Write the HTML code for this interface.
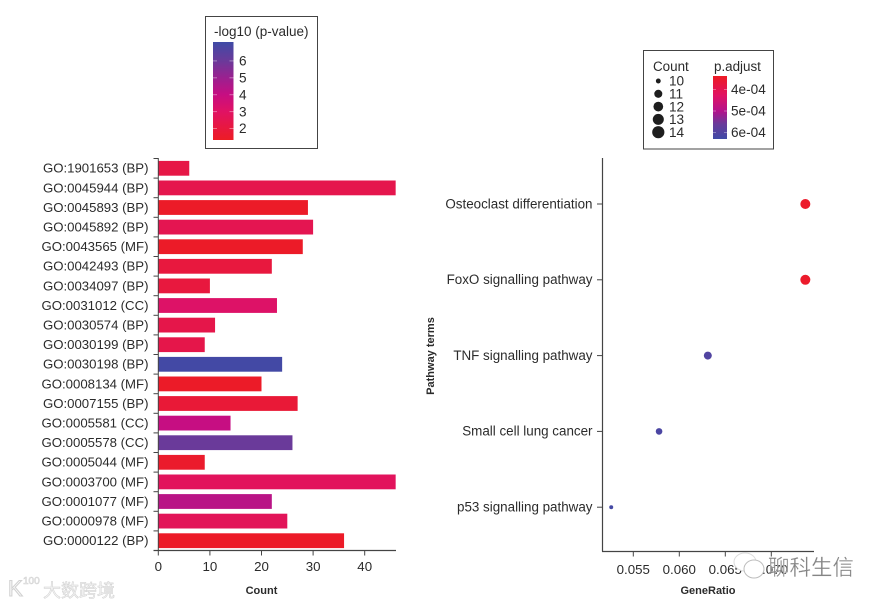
<!DOCTYPE html>
<html>
<head>
<meta charset="utf-8">
<title>GO bar chart and pathway dot plot</title>
<style>
html,body{margin:0;padding:0;background:#fff;}
svg{display:block;}
text{font-family:"Liberation Sans","Noto Sans CJK SC",sans-serif;fill:#2b2b2b;}
</style>
</head>
<body>
<svg id="chart" width="884" height="606" viewBox="0 0 884 606" xmlns="http://www.w3.org/2000/svg">
  <defs>
    <linearGradient id="grad-log" x1="0" y1="1" x2="0" y2="0"></linearGradient>
    <linearGradient id="grad-padj" x1="0" y1="0" x2="0" y2="1"></linearGradient>
  </defs>
  <g id="bar-panel"></g>
  <g id="dot-panel"></g>
  <g id="legend-a"></g>
  <g id="legend-b"></g>
  <g>
    <text x="8" y="596" font-size="22" style="fill:#fff;stroke:#d2d2d2;stroke-width:1.1">K</text>
    <text x="23" y="584" font-size="10" style="fill:#fff;stroke:#d2d2d2;stroke-width:.6">100</text>
    <text x="43" y="597" font-size="18" style="fill:#f4f4f4;stroke:#cfcfcf;stroke-width:.5">大数跨境</text>
  </g>
  <g>
    <ellipse cx="745" cy="562" rx="11" ry="9" fill="#fff" stroke="#dcdcdc" stroke-width="1"></ellipse>
    <ellipse cx="754" cy="569" rx="10" ry="9" fill="#fff" stroke="#bdbdbd" stroke-width="1"></ellipse>
    <text x="768" y="575" font-size="21.5" style="fill:#858585;stroke:#fff;stroke-width:.25">聊科生信</text>
  </g>
</svg>
<script>
// ---- bar chart data ----
const goTerms = ["GO:1901653 (BP)","GO:0045944 (BP)","GO:0045893 (BP)","GO:0045892 (BP)","GO:0043565 (MF)","GO:0042493 (BP)","GO:0034097 (BP)","GO:0031012 (CC)","GO:0030574 (BP)","GO:0030199 (BP)","GO:0030198 (BP)","GO:0008134 (MF)","GO:0007155 (BP)","GO:0005581 (CC)","GO:0005578 (CC)","GO:0005044 (MF)","GO:0003700 (MF)","GO:0001077 (MF)","GO:0000978 (MF)","GO:0000122 (BP)"];
const goCounts = [6,46,29,30,28,22,10,23,11,9,24,20,27,14,26,9,46,22,25,36];
const goLogP = [2.2,2.4,1.4,2.5,1.4,2.0,2.0,3.1,2.3,2.3,7.0,1.4,1.8,4.0,6.0,1.5,2.8,4.3,2.7,1.4];
const countTicks = [0,10,20,30,40];
const logPTicks = [2,3,4,5,6];

// ---- dot plot data ----
const pathways = ["Osteoclast differentiation","FoxO signalling pathway","TNF signalling pathway","Small cell lung cancer","p53 signalling pathway"];
const geneRatios = [0.0737,0.0737,0.0631,0.0578,0.0526];
const pathCounts = [14,14,12,11,10];
const pathPadj = [3.5e-4,3.5e-4,6.0e-4,6.1e-4,6.2e-4];
const ratioTicks = ["0.055","0.060","0.065","0.070"];
const sizeLegend = [10,11,12,13,14];
const padjTicks = [4e-4,5e-4,6e-4];
const padjTickLabels = ["4e-04","5e-04","6e-04"];

const NS = "http://www.w3.org/2000/svg";
function mk(parent, tag, attrs, txt) {
  const el = document.createElementNS(NS, tag);
  for (const k in attrs) el.setAttribute(k, attrs[k]);
  if (txt !== undefined) el.textContent = txt;
  parent.appendChild(el);
  return el;
}
function hex(c){return [parseInt(c.slice(1,3),16),parseInt(c.slice(3,5),16),parseInt(c.slice(5,7),16)];}
function ramp(v, dom, cols){
  if (v <= dom[0]) return cols[0];
  for (let i = 1; i < dom.length; i++) {
    if (v <= dom[i]) {
      const t = (v-dom[i-1])/(dom[i]-dom[i-1]), a = hex(cols[i-1]), b = hex(cols[i]);
      return "rgb("+a.map((x,j)=>Math.round(x+(b[j]-x)*t)).join(",")+")";
    }
  }
  return cols[cols.length-1];
}
const logDom = [1.3,3,4,5,6,7.1];
const logCols = ["#ed1c24","#e01264","#c60e82","#9a2190","#6a3a9a","#3f4ba6"];
const padDom = [3.4e-4,4.3e-4,5e-4,5.6e-4,6.3e-4];
const padCols = ["#ed1c24","#e01264","#b4128a","#6a3a9a","#3f4ba6"];
const colorLog = v => ramp(v, logDom, logCols);
const colorPad = v => ramp(v, padDom, padCols);

// gradients
const gl = document.getElementById("grad-log");
logDom.forEach((d,i)=>{mk(gl,"stop",{offset:(d-1.3)/(7.1-1.3),"stop-color":logCols[i]});});
const gp = document.getElementById("grad-padj");
padDom.forEach((d,i)=>{mk(gp,"stop",{offset:(d-3.4e-4)/(6.3e-4-3.4e-4),"stop-color":padCols[i]});});

// ---- bar panel ----
const bp = document.getElementById("bar-panel");
const xBar = v => 158.3 + v*5.16;
const bandTop = 158.5, band = 19.6;
const yBand = i => bandTop + band*i;
const axisCol = "#444444";

goTerms.forEach((t,i)=>{
  const tk = mk(bp,"line",{x1:153.5,x2:158.3,y1:yBand(i),y2:yBand(i),stroke:axisCol,"stroke-width":1});
  
  
  const lb = mk(bp,"text",{x:148.5,y:yBand(i)+14.2,"text-anchor":"end","font-size":13.2},t);
  
  
  const r = mk(bp,"rect",{x:xBar(0),y:yBand(i)+2.4,width:xBar(goCounts[i])-xBar(0),height:14.8,fill:colorLog(goLogP[i])});
  
  
});
const by = mk(bp,"line",{x1:158.3,x2:158.3,y1:158,y2:551,stroke:axisCol,"stroke-width":1});


const bx = mk(bp,"line",{x1:153.5,x2:396,y1:550.5,y2:550.5,stroke:axisCol,"stroke-width":1.2});


countTicks.forEach(v=>{
  const tk = mk(bp,"line",{x1:xBar(v),x2:xBar(v),y1:550.5,y2:555.5,stroke:axisCol,"stroke-width":1});
  
  
  const lb = mk(bp,"text",{x:xBar(v),y:571,"text-anchor":"middle","font-size":13.3},v);
  
  
});
const bt = mk(bp,"text",{x:261.5,y:594,"text-anchor":"middle","font-size":11,"font-weight":"bold"},"Count");



// ---- dot panel ----
const dp = document.getElementById("dot-panel");
const xDot = v => 633.3 + (v-0.055)*9200;
const yDot = i => 204 + 75.8*i;
const rDot = c => 2 + 3*Math.pow((c-10)/4, 0.6);

const dy = mk(dp,"line",{x1:602.5,x2:602.5,y1:158,y2:551.5,stroke:axisCol,"stroke-width":1.2});


const dx = mk(dp,"line",{x1:602,x2:814,y1:551.5,y2:551.5,stroke:axisCol,"stroke-width":1.2});


pathways.forEach((p,i)=>{
  const tk = mk(dp,"line",{x1:597,x2:602.5,y1:yDot(i),y2:yDot(i),stroke:axisCol,"stroke-width":1});
  
  
  const lb = mk(dp,"text",{x:592.5,y:yDot(i)+4.3,"text-anchor":"end","font-size":13.4},p);
  
  
  const c = mk(dp,"circle",{cx:xDot(geneRatios[i]),cy:yDot(i),r:rDot(pathCounts[i]),fill:colorPad(pathPadj[i])});
  
  
});
ratioTicks.forEach(s=>{
  const v = parseFloat(s);
  const tk = mk(dp,"line",{x1:xDot(v),x2:xDot(v),y1:551.5,y2:556.5,stroke:axisCol,"stroke-width":1});
  
  
  const lb = mk(dp,"text",{x:xDot(v),y:574,"text-anchor":"middle","font-size":13.3},s);
  
  
});
const dt = mk(dp,"text",{x:708,y:594,"text-anchor":"middle","font-size":11,"font-weight":"bold"},"GeneRatio");


const dyt = mk(dp,"text",{x:434,y:356,"text-anchor":"middle","font-size":11,"font-weight":"bold",transform:"rotate(-90 434 356)"},"Pathway terms");



// ---- legend A ----
const la = document.getElementById("legend-a");
const fa = mk(la,"rect",{x:205.5,y:16.5,width:112,height:132,fill:"#fff",stroke:"#444","stroke-width":1});


const ta = mk(la,"text",{x:214,y:36,"font-size":13.5},"-log10 (p-value)");


const ca = mk(la,"rect",{x:213,y:42,width:20.5,height:98,fill:"url(#grad-log)"});


const yLog = v => 128.5 - (v-2)*16.9;
logPTicks.forEach(v=>{
  const t1 = mk(la,"line",{x1:213,x2:217,y1:yLog(v),y2:yLog(v),stroke:"#fff","stroke-opacity":.4,"stroke-width":1});
  
  
  const t2 = mk(la,"line",{x1:229.5,x2:233.5,y1:yLog(v),y2:yLog(v),stroke:"#fff","stroke-opacity":.4,"stroke-width":1});
  
  
  const lb = mk(la,"text",{x:239,y:yLog(v)+4.7,"font-size":13.6},v);
  
  
});

// ---- legend B ----
const lb2 = document.getElementById("legend-b");
const fb = mk(lb2,"rect",{x:643.5,y:50.5,width:130,height:98.5,fill:"#fff",stroke:"#444","stroke-width":1});


const tc = mk(lb2,"text",{x:653,y:71,"font-size":13.4},"Count");


const tp = mk(lb2,"text",{x:714,y:71,"font-size":13.4},"p.adjust");


const ySize = i => 81 + 12.8*i;
sizeLegend.forEach((c,i)=>{
  const d = mk(lb2,"circle",{cx:658.3,cy:ySize(i),r:rDot(c)*1.22,fill:"#1e1e1e"});
  
  
  const l = mk(lb2,"text",{x:669,y:ySize(i)+4.7,"font-size":13.6},c);
  
  
});
const cb = mk(lb2,"rect",{x:713,y:76,width:14,height:63,fill:"url(#grad-padj)"});


const yPad = v => 89.5 + (v-4e-4)*21.5e4;
padjTicks.forEach((v,i)=>{
  const t1 = mk(lb2,"line",{x1:713,x2:716,y1:yPad(v),y2:yPad(v),stroke:"#fff","stroke-opacity":.35,"stroke-width":1});
  
  
  const t2 = mk(lb2,"line",{x1:724,x2:727,y1:yPad(v),y2:yPad(v),stroke:"#fff","stroke-opacity":.35,"stroke-width":1});
  
  
  const l = mk(lb2,"text",{x:731,y:yPad(v)+4.7,"font-size":13.6},padjTickLabels[i]);
  
  
});
</script>
</body>
</html>
